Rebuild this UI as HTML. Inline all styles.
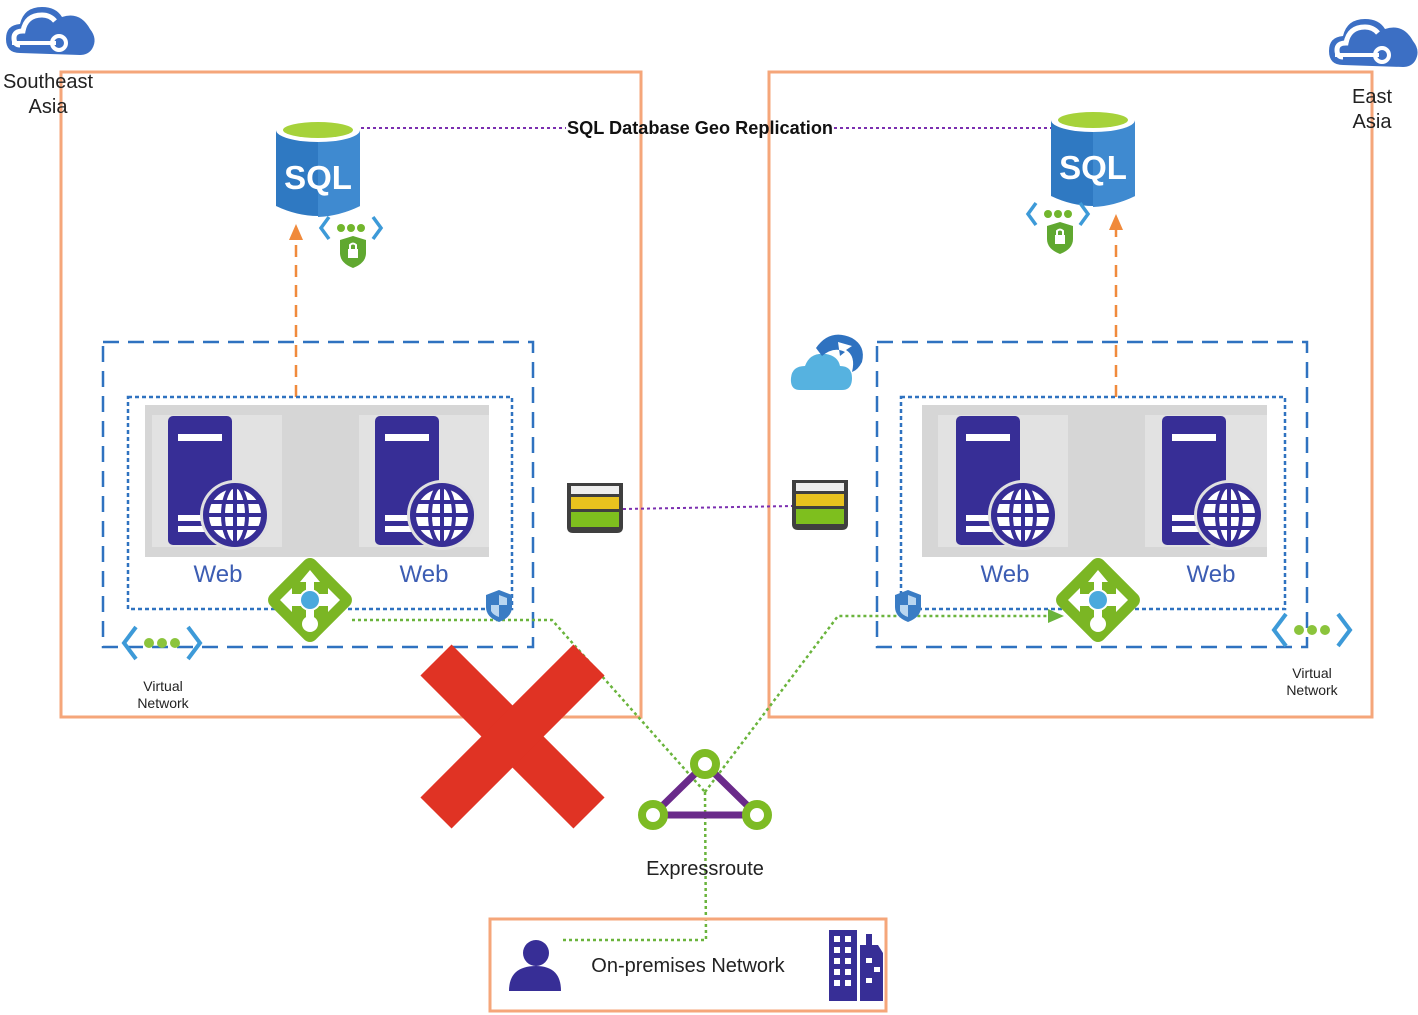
<!DOCTYPE html>
<html><head><meta charset="utf-8"><style>
html,body{margin:0;padding:0;background:#fff;}
svg{display:block;font-family:"Liberation Sans",sans-serif;}
</style></head><body>
<svg width="1418" height="1015" viewBox="0 0 1418 1015" xmlns="http://www.w3.org/2000/svg">
<defs>
  <g id="cloud">
    <path d="M-30,18 Q-44,18 -44,4 Q-44,-10 -30,-11 Q-26,-28 -8,-28 Q6,-28 12,-18 Q30,-24 40,-6 Q48,4 42,14 Q38,20 30,20 Z" fill="#3c6fc4"/>
    <path d="M-30,10 Q-36,10 -36,3 Q-36,-4 -27,-4 Q-24,-20 -8,-20 Q0,-20 5,-14" fill="none" stroke="#fff" stroke-width="5"/>
    <path d="M-38,8 L6,8" stroke="#fff" stroke-width="4"/>
    <circle cx="9" cy="8" r="7" fill="none" stroke="#fff" stroke-width="4"/>
  </g>
  <g id="sql">
    <path d="M0,12 L0,88 Q42,108 84,88 L84,12 Z" fill="#2f79c2"/>
    <path d="M42,12 L84,12 L84,88 Q64,98 42,99 Z" fill="#3f8ad0"/>
    <ellipse cx="42" cy="12" rx="42" ry="12" fill="#fff"/>
    <ellipse cx="42" cy="12" rx="35" ry="8" fill="#a6d23a"/>
    <text x="42" y="71" text-anchor="middle" font-size="33" font-weight="bold" fill="#fff">SQL</text>
  </g>
  <g id="vnetlock">
    <path d="M-22,-15 L-30,-4 L-22,7 M22,-15 L30,-4 L22,7" fill="none" stroke="#3d9ad8" stroke-width="3.5"/>
    <circle cx="-10" cy="-4" r="4" fill="#72b62d"/><circle cx="0" cy="-4" r="4" fill="#72b62d"/><circle cx="10" cy="-4" r="4" fill="#72b62d"/>
    <path d="M2,4 L15,8 L15,21 Q15,31 2,36 Q-11,31 -11,21 L-11,8 Z" fill="#60a830"/>
    <rect x="-3" y="17" width="10" height="9" fill="#fff"/>
    <path d="M-1,17 L-1,13 Q2,10 5,13 L5,17" fill="none" stroke="#fff" stroke-width="2"/>
  </g>
  <g id="server">
    <rect x="0" y="0" width="64" height="129" rx="5" fill="#372e96"/>
    <rect x="10" y="18" width="44" height="7" fill="#fff"/>
    <rect x="10" y="99" width="30" height="6" fill="#fff"/>
    <rect x="10" y="110" width="30" height="6" fill="#fff"/>
    <circle cx="67" cy="99" r="35" fill="#e0e0e0"/>
    <circle cx="67" cy="99" r="29" fill="#fff" stroke="#372e96" stroke-width="6"/>
    <ellipse cx="67" cy="99" rx="12" ry="29" fill="none" stroke="#372e96" stroke-width="4"/>
    <line x1="67" y1="70" x2="67" y2="128" stroke="#372e96" stroke-width="4"/>
    <line x1="38" y1="99" x2="96" y2="99" stroke="#372e96" stroke-width="4"/>
    <line x1="42" y1="86" x2="92" y2="86" stroke="#372e96" stroke-width="4"/>
    <line x1="42" y1="112" x2="92" y2="112" stroke="#372e96" stroke-width="4"/>
  </g>
  <g id="lb">
    <rect x="-32" y="-32" width="64" height="64" rx="8" fill="#7bb624" transform="rotate(45)"/>
    <path d="M0,-30 L-10,-18 L-4,-18 L-4,-6 L-18,-6 L-18,-12 L-30,0 L-18,12 L-18,6 L18,6 L18,12 L30,0 L18,-12 L18,-6 L4,-6 L4,-18 L10,-18 Z" fill="#fff"/>
    <rect x="-4" y="4" width="8" height="18" fill="#fff"/>
    <circle cx="0" cy="24" r="8" fill="#fff"/>
    <circle cx="0" cy="0" r="11" fill="#fff"/>
    <circle cx="0" cy="0" r="9" fill="#4aa9dd"/>
  </g>
  <g id="shield">
    <path d="M0,-15 L13,-10 L13,2 Q13,12 0,17 Q-13,12 -13,2 L-13,-10 Z" fill="#3a7cc4"/>
    <path d="M0,-10 L8,-7 L8,0 L0,0 Z M0,0 L-8,0 L-8,6 Q-6,10 0,12 Z" fill="#b9d6f0"/>
  </g>
  <g id="storage">
    <path d="M0,0 L56,0 L56,44 Q56,50 50,50 L6,50 Q0,50 0,44 Z" fill="#3f3f3f"/>
    <rect x="4" y="3" width="48" height="8" fill="#eee"/>
    <rect x="4" y="14" width="48" height="12" fill="#e8c21e"/>
    <rect x="4" y="29" width="48" height="15" fill="#7ebf1e"/>
  </g>
  <g id="vnet">
    <path d="M-26,-16 L-38,0 L-26,16 M26,-16 L38,0 L26,16" fill="none" stroke="#3d9ad8" stroke-width="4"/>
    <circle cx="-13" cy="0" r="5" fill="#8bc43c"/><circle cx="0" cy="0" r="5" fill="#8bc43c"/><circle cx="13" cy="0" r="5" fill="#8bc43c"/>
  </g>
</defs>

<rect x="61" y="72" width="580" height="645" fill="none" stroke="#f5a67a" stroke-width="3"/>
<rect x="769" y="72" width="603" height="645" fill="none" stroke="#f5a67a" stroke-width="3"/>

<use href="#cloud" x="50" y="35"/>
<use href="#cloud" x="1373" y="47"/>
<text x="48" y="88" text-anchor="middle" font-size="20" fill="#222">Southeast</text>
<text x="48" y="113" text-anchor="middle" font-size="20" fill="#222">Asia</text>
<text x="1372" y="103" text-anchor="middle" font-size="20" fill="#222">East</text>
<text x="1372" y="128" text-anchor="middle" font-size="20" fill="#222">Asia</text>

<line x1="355" y1="128" x2="566" y2="128" stroke="#7b2fb0" stroke-width="2" stroke-dasharray="3,3"/>
<line x1="834" y1="128" x2="1052" y2="128" stroke="#7b2fb0" stroke-width="2" stroke-dasharray="3,3"/>
<text x="700" y="134" text-anchor="middle" font-size="18" font-weight="bold" fill="#111" textLength="266" lengthAdjust="spacingAndGlyphs">SQL Database Geo Replication</text>

<use href="#sql" x="276" y="118"/>
<use href="#sql" x="1051" y="108"/>
<use href="#vnetlock" x="351" y="232"/>
<use href="#vnetlock" x="1058" y="218"/>

<line x1="296" y1="397" x2="296" y2="236" stroke="#f08a3c" stroke-width="2.5" stroke-dasharray="12,8"/>
<path d="M289,240 L296,224 L303,240 Z" fill="#f08a3c"/>
<line x1="1116" y1="397" x2="1116" y2="227" stroke="#f08a3c" stroke-width="2.5" stroke-dasharray="12,8"/>
<path d="M1109,230 L1116,214 L1123,230 Z" fill="#f08a3c"/>

<rect x="103" y="342" width="430" height="305" fill="none" stroke="#2f72c0" stroke-width="2.5" stroke-dasharray="16,9"/>
<rect x="128" y="397" width="384" height="212" fill="none" stroke="#2f72c0" stroke-width="2.5" stroke-dasharray="4,3"/>
<rect x="145" y="405" width="344" height="152" fill="#d6d6d6"/>
<rect x="152" y="415" width="130" height="132" fill="#e2e2e2"/>
<rect x="359" y="415" width="130" height="132" fill="#e2e2e2"/>
<use href="#server" x="168" y="416"/>
<use href="#server" x="375" y="416"/>
<text x="218" y="582" text-anchor="middle" font-size="24" fill="#3c5db3">Web</text>
<text x="424" y="582" text-anchor="middle" font-size="24" fill="#3c5db3">Web</text>

<rect x="877" y="342" width="430" height="305" fill="none" stroke="#2f72c0" stroke-width="2.5" stroke-dasharray="16,9"/>
<rect x="901" y="397" width="384" height="212" fill="none" stroke="#2f72c0" stroke-width="2.5" stroke-dasharray="4,3"/>
<rect x="922" y="405" width="345" height="152" fill="#d6d6d6"/>
<rect x="938" y="415" width="130" height="132" fill="#e2e2e2"/>
<rect x="1145" y="415" width="122" height="132" fill="#e2e2e2"/>
<use href="#server" x="956" y="416"/>
<use href="#server" x="1162" y="416"/>
<text x="1005" y="582" text-anchor="middle" font-size="24" fill="#3c5db3">Web</text>
<text x="1211" y="582" text-anchor="middle" font-size="24" fill="#3c5db3">Web</text>

<line x1="623" y1="509" x2="793" y2="506" stroke="#7b2fb0" stroke-width="2" stroke-dasharray="3,3"/>
<use href="#storage" x="567" y="483"/>
<use href="#storage" x="792" y="480"/>

<path d="M800,390 Q790,390 791,378 Q792,366 805,366 Q810,352 826,354 Q838,356 840,366 Q852,366 852,378 Q852,390 842,390 Z" fill="#56b2e0"/>
<path d="M816,348 Q830,328 852,338 Q866,346 862,362 Q858,370 852,372 Q856,356 846,350 L852,346 L838,342 L840,356 L845,352 Q834,346 822,356 Z" fill="#2f72c0"/>

<polyline points="352,620 552,620 705,792" fill="none" stroke="#6ab43c" stroke-width="2.5" stroke-dasharray="3,3"/>
<polyline points="705,792 838,616 1058,616" fill="none" stroke="#6ab43c" stroke-width="2.5" stroke-dasharray="3,3"/>
<path d="M1048,609 L1064,616 L1048,623 Z" fill="#6ab43c"/>
<polyline points="705,792 706,940 560,940" fill="none" stroke="#6ab43c" stroke-width="2.5" stroke-dasharray="3,3"/>

<use href="#lb" x="310" y="600"/>
<use href="#lb" x="1098" y="600"/>
<use href="#shield" x="499" y="605"/>
<use href="#shield" x="908" y="605"/>

<use href="#vnet" x="162" y="643"/>
<use href="#vnet" x="1312" y="630"/>
<text x="163" y="691" text-anchor="middle" font-size="14" fill="#222">Virtual</text>
<text x="163" y="708" text-anchor="middle" font-size="14" fill="#222">Network</text>
<text x="1312" y="678" text-anchor="middle" font-size="14" fill="#222">Virtual</text>
<text x="1312" y="695" text-anchor="middle" font-size="14" fill="#222">Network</text>

<line x1="436" y1="660" x2="589" y2="813" stroke="#e03324" stroke-width="44"/>
<line x1="589" y1="660" x2="436" y2="813" stroke="#e03324" stroke-width="44"/>

<path d="M705,764 L653,815 L757,815 Z" fill="none" stroke="#6a2a8a" stroke-width="7"/>
<circle cx="705" cy="764" r="11" fill="#fff" stroke="#7dbb24" stroke-width="8"/>
<circle cx="653" cy="815" r="11" fill="#fff" stroke="#7dbb24" stroke-width="8"/>
<circle cx="757" cy="815" r="11" fill="#fff" stroke="#7dbb24" stroke-width="8"/>
<text x="705" y="875" text-anchor="middle" font-size="20" fill="#222">Expressroute</text>

<rect x="490" y="919" width="396" height="92" fill="none" stroke="#f5a67a" stroke-width="3"/>
<circle cx="536" cy="953" r="13" fill="#372e96"/>
<path d="M509,991 Q509,966 536,966 Q561,966 561,991 Z" fill="#372e96"/>
<text x="688" y="972" text-anchor="middle" font-size="20" fill="#222">On-premises Network</text>
<rect x="829" y="930" width="28" height="71" fill="#372e96"/>
<path d="M860,1001 L860,945 L866,945 L866,934 L872,934 L872,945 L878,945 L883,953 L883,1001 Z" fill="#372e96"/>
<g fill="#fff">
<rect x="834" y="936" width="6" height="6"/><rect x="845" y="936" width="6" height="6"/>
<rect x="834" y="947" width="6" height="6"/><rect x="845" y="947" width="6" height="6"/>
<rect x="834" y="958" width="6" height="6"/><rect x="845" y="958" width="6" height="6"/>
<rect x="834" y="969" width="6" height="6"/><rect x="845" y="969" width="6" height="6"/>
<rect x="834" y="980" width="6" height="6"/><rect x="845" y="980" width="6" height="6"/>
<rect x="866" y="958" width="6" height="5"/><rect x="874" y="967" width="6" height="5"/><rect x="866" y="978" width="6" height="5"/>
</g>
</svg>
</body></html>
